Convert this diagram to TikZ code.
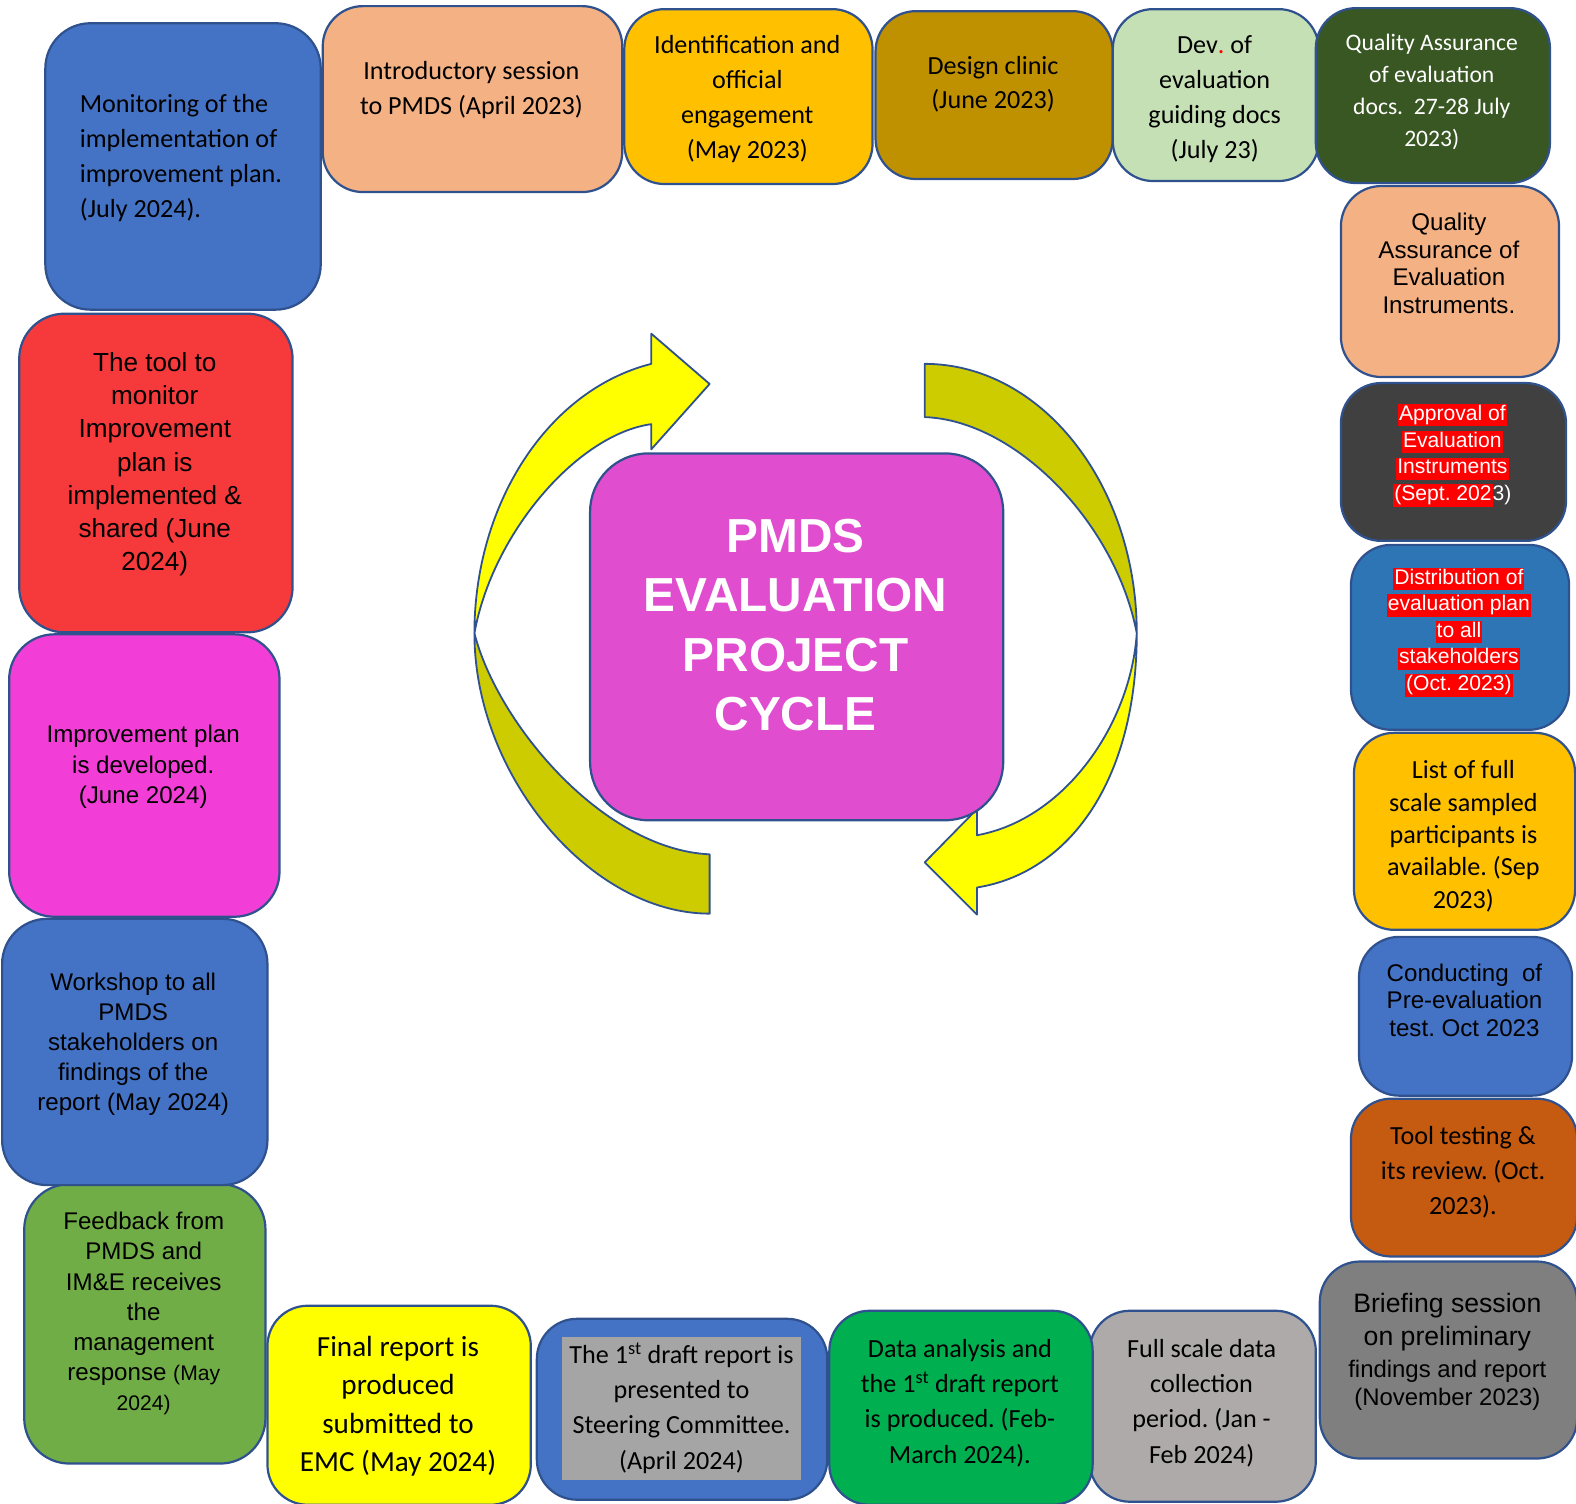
\documentclass[tikz,border=0pt]{standalone}
\usepackage{fontspec}
\setmainfont{Carlito}
\newfontfamily\arialfont{Liberation Sans}
\frenchspacing

\definecolor{edge}{HTML}{2F528F}
\definecolor{blueA}{HTML}{4472C4}
\definecolor{peach}{HTML}{F4B183}
\definecolor{amber}{HTML}{FFC000}
\definecolor{mustard}{HTML}{BF9000}
\definecolor{mint}{HTML}{C5E0B4}
\definecolor{forest}{HTML}{385723}
\definecolor{charcoal}{HTML}{404040}
\definecolor{steel}{HTML}{2E75B6}
\definecolor{rust}{HTML}{C55A11}
\definecolor{slate}{HTML}{7F7F7F}
\definecolor{silver}{HTML}{AEAAAA}
\definecolor{grass}{HTML}{00B050}
\definecolor{ash}{HTML}{A5A5A5}
\definecolor{lemon}{HTML}{FFFF00}
\definecolor{leaf}{HTML}{70AD47}
\definecolor{orchid}{HTML}{F23ED6}
\definecolor{tomato}{HTML}{F63A3C}
\definecolor{hubpink}{HTML}{E04ECF}
\definecolor{bandback}{HTML}{CCCC00}

% red marker behind a line of text
\newcommand{\redhl}[1]{{\setlength{\fboxsep}{1pt}\colorbox{red}{\rule[-5pt]{0pt}{17pt}#1}}}

\begin{document}
\begin{tikzpicture}[
    x=1pt, y=-1pt,
    stage/.style={draw=edge, line width=2.2pt, rounded corners=40pt, anchor=north west, inner sep=0pt},
    calibri/.style 2 args={font=\fontsize{#1}{#2}\selectfont, align=center},
    arial/.style 2 args={font=\arialfont\fontsize{#1}{#2}\selectfont, align=center},
    band/.style={draw=edge, line width=1.8pt, line join=round}
]
\useasboundingbox (0,0) rectangle (1568,1496);

% the two curved arrows round the centre
\draw[band, fill=lemon] (472,630) .. controls (472,501) and (545,388) .. (648,362)
    -- (648,332) -- (706,382) -- (648,447) -- (648,422)
    .. controls (575,432) and (490,530) .. (472,630) -- cycle;
\draw[band, fill=bandback] (472,630) .. controls (472,772) and (588,909) .. (706,909)
    -- (706,850) .. controls (600,845) and (495,720) .. (472,630) -- cycle;
\draw[band, fill=bandback] (920,362) .. controls (1036,362) and (1131,482) .. (1131,630)
    .. controls (1110,520) and (1010,418) .. (920,415) -- cycle;
\draw[band, fill=lemon] (1131,630) .. controls (1131,775) and (1065,868) .. (972,883)
    -- (972,910) -- (920,858) -- (972,805) -- (972,831)
    .. controls (1060,815) and (1125,720) .. (1131,630) -- cycle;

% centre
\node[stage, fill=hubpink, rounded corners=58pt, minimum width=411pt, minimum height=365pt] (hub) at (586,450) {};
\node[font=\arialfont\bfseries\fontsize{47.5}{59}\selectfont, align=center, text=white] (hub-t) at (791.5,622)
    {PMDS\\EVALUATION\\PROJECT\\CYCLE};

% top row
\node[stage, fill=blueA, rounded corners=45pt, minimum width=274pt, minimum height=285pt] (monitor) at (44,22) {};
\node[calibri={26}{35}, align=left] (monitor-t) at (180,157)
    {Monitoring of the\\implementation of\\improvement plan.\\(July 2024).};
\node[stage, fill=peach, minimum width=298pt, minimum height=185pt] (intro) at (320,5) {};
\node[calibri={26}{35}] (intro-t) at (469,89.5) {Introductory session\\to PMDS (April 2023)};
\node[stage, fill=amber, minimum width=247pt, minimum height=174pt] (ident) at (620,8) {};
\node[calibri={26}{35}] (ident-t) at (743.5,98.5) {Identification and\\official\\engagement\\(May 2023)};
\node[stage, fill=mustard, minimum width=236pt, minimum height=167pt] (clinic) at (870,10) {};
\node[calibri={26}{34}] (clinic-t) at (988,84) {Design clinic\\(June 2023)};
\node[stage, fill=mint, minimum width=205pt, minimum height=171pt] (guide) at (1106,8) {};
\node[calibri={26}{35}] (guide-t) at (1208.5,98.5) {Dev{\color{red}.} of\\evaluation\\guiding docs\\(July 23)};
\node[stage, fill=forest, minimum width=233pt, minimum height=174pt] (qadocs) at (1308,7) {};
\node[calibri={23.5}{32}, text=white] (qadocs-t) at (1424.5,91.5)
    {Quality Assurance\\of evaluation\\docs.\ \ 27-28 July\\2023)};

% right column
\node[stage, fill=peach, minimum width=217pt, minimum height=190pt] (qainst) at (1333,184) {};
\node[arial={24}{27.7}] (qainst-t) at (1441.5,262) {Quality\\Assurance of\\Evaluation\\Instruments.};
\node[stage, fill=charcoal, minimum width=224pt, minimum height=157pt] (approve) at (1333,380) {};
\node[arial={21}{26.7}, text=white] (approve-t) at (1445,453)
    {\redhl{Approval of}\\\redhl{Evaluation}\\\redhl{Instruments}\\\redhl{(Sept. 202}3)};
\node[stage, fill=steel, minimum width=217pt, minimum height=184pt] (spread) at (1343,541) {};
\node[arial={21}{26.5}, text=white] (spread-t) at (1451.5,629)
    {\redhl{Distribution of}\\\redhl{evaluation plan}\\\redhl{to all}\\\redhl{stakeholders}\\\redhl{(Oct. 2023)}};
\node[stage, fill=amber, minimum width=220pt, minimum height=196pt] (sample) at (1346,728) {};
\node[calibri={26}{32.3}] (sample-t) at (1456,832)
    {List of full\\scale sampled\\participants is\\available. (Sep\\2023)};
\node[stage, fill=blueA, minimum width=212pt, minimum height=158pt] (pretest) at (1351,931) {};
\node[arial={24}{27.5}] (pretest-t) at (1457,995) {Conducting\ \ of\\Pre-evaluation\\test. Oct 2023};
\node[stage, fill=rust, minimum width=225pt, minimum height=157pt] (tooltest) at (1343,1092) {};
\node[calibri={26}{35}] (tooltest-t) at (1455.5,1166.5) {Tool testing \&\\its review. (Oct.\\2023).};
\node[stage, fill=slate, minimum width=256pt, minimum height=196pt] (brief) at (1312,1254) {};
\node[arial={23.8}{28}] (brief-t) at (1440,1345)
    {{\fontsize{26.5}{33}\selectfont Briefing session}\\[5pt]{\fontsize{26.5}{33}\selectfont on preliminary}\\[3pt]
     findings and report\\(November 2023)};

% bottom row
\node[stage, fill=silver, minimum width=225pt, minimum height=190pt] (collect) at (1083,1303) {};
\node[calibri={26}{35}] (collect-t) at (1195.5,1396) {Full scale data\\collection\\period. (Jan -\\Feb 2024)};
\node[stage, fill=grass, minimum width=262pt, minimum height=193pt] (analysis) at (824,1303) {};
\node[calibri={26}{35}] (analysis-t) at (955,1396)
    {Data analysis and\\the 1\textsuperscript{st} draft report\\is produced. (Feb-\\March 2024).};
\node[stage, fill=blueA, minimum width=289pt, minimum height=180pt] (draft) at (533,1311) {};
\node[calibri={26}{35}, fill=ash, minimum width=238pt, minimum height=142pt, inner sep=0pt] (draft-t) at (678,1401)
    {The 1\textsuperscript{st} draft report is\\presented to\\Steering Committee.\\(April 2024)};
\node[stage, fill=lemon, minimum width=262pt, minimum height=198pt] (final) at (265,1298) {};
\node[calibri={29}{38}] (final-t) at (396,1399) {Final report is\\produced\\submitted to\\EMC (May 2024)};

% left column
\node[stage, fill=leaf, rounded corners=45pt, minimum width=240pt, minimum height=278pt] (feedback) at (23,1177) {};
\node[arial={24}{30}] (feedback-t) at (143,1307)
    {Feedback from\\PMDS and\\IM\&E receives\\the\\management\\response {\fontsize{21}{30}\selectfont(May}\\{\fontsize{21}{27}\selectfont 2024)}};
\node[stage, fill=blueA, rounded corners=45pt, minimum width=264pt, minimum height=265pt] (workshop) at (1,913) {};
\node[arial={24}{30}] (workshop-t) at (132.5,1039)
    {Workshop to all\\PMDS\\stakeholders on\\findings of the\\report (May 2024)};
\node[stage, fill=orchid, rounded corners=45pt, minimum width=269pt, minimum height=281pt] (improve) at (8,630) {};
\node[arial={24}{30}] (improve-t) at (142.5,763) {Improvement plan\\is developed.\\(June 2024)};
\node[stage, fill=tomato, rounded corners=45pt, minimum width=272pt, minimum height=317pt] (toolmon) at (18,311) {};
\node[arial={26}{33}] (toolmon-t) at (154,462)
    {The tool to\\monitor\\Improvement\\plan is\\implemented \&\\shared (June\\2024)};
\end{tikzpicture}
\end{document}
